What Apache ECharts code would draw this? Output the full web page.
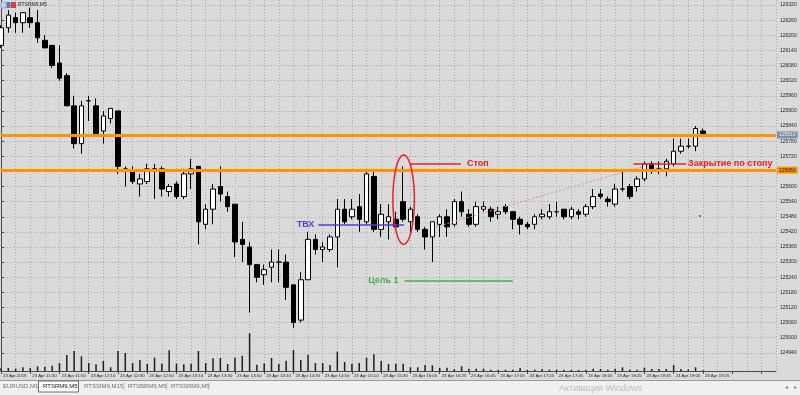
<!DOCTYPE html>
<html><head><meta charset="utf-8">
<script src="https://cdn.jsdelivr.net/npm/echarts@6/dist/echarts.min.js"></script>
<style>html,body{margin:0;padding:0;background:#dadada}#c{width:800px;height:395px}</style>
</head><body><div id="c"></div><script>
// ---- data ----
const timeLabels = ['23 Apr 2019','23 Apr 11:30','23 Apr 11:50','23 Apr 12:10','23 Apr 12:30','23 Apr 12:50','23 Apr 13:10','23 Apr 13:30','23 Apr 13:50','23 Apr 14:10','23 Apr 14:30','23 Apr 14:50','23 Apr 15:10','23 Apr 15:30','23 Apr 16:05','23 Apr 16:25','23 Apr 16:45','23 Apr 17:05','23 Apr 17:25','23 Apr 17:45','23 Apr 18:05','23 Apr 18:25','23 Apr 18:45','23 Apr 19:05','23 Apr 19:25'];
const opens = [126160,126230,126270,126250,126270,126250,126180,126160,126090,126040,
125920,125770,125940,125920,125820,125870,125900,125670,125660,125610,
125620,125670,125670,125580,125610,125560,125650,125680,125450,125510,
125600,125560,125530,125390,125360,125290,125250,125280,125300,125300,
125210,125070,125230,125390,125350,125350,125400,125510,125480,125520,
125460,125640,125430,125460,125470,125540,125460,125480,125430,125400,
125450,125480,125450,125540,125490,125450,125510,125510,125490,125520,
125500,125470,125450,125450,125480,125480,125500,125510,125480,125500,
125490,125520,125570,125550,125530,125590,125600,125600,125630,125690,
125660,125670,125690,125740,125760,125760,125820];
const closes = [126230,126280,126250,126290,126250,126190,126150,126080,126030,125920,
125770,125920,125940,125810,125880,125910,125680,125660,125620,125630,
125670,125670,125590,125600,125560,125650,125670,125460,125510,125590,
125570,125520,125380,125370,125290,125240,125270,125300,125300,125200,
125060,125230,125390,125350,125360,125400,125510,125460,125510,125470,
125650,125430,125490,125480,125440,125470,125510,125430,125400,125460,
125480,125440,125540,125500,125450,125520,125520,125480,125500,125500,
125470,125450,125440,125480,125490,125500,125500,125480,125510,125490,
125520,125560,125560,125540,125590,125590,125560,125630,125690,125660,
125670,125700,125740,125760,125760,125830,125810];
const lows = [126150,126210,126210,126210,126230,126170,126150,126070,126020,125920,
125750,125730,125860,125810,125770,125850,125650,125600,125610,125560,
125610,125550,125560,125560,125550,125550,125590,125370,125430,125450,
125540,125500,125320,125300,125100,125220,125210,125220,125220,125150,
125040,125060,125230,125330,125300,125340,125280,125450,125470,125420,
125450,125420,125400,125390,125430,125460,125420,125420,125350,125300,
125400,125400,125440,125480,125440,125440,125500,125460,125470,125490,
125430,125410,125430,125430,125470,125470,125480,125470,125470,125470,
125480,125510,125550,125520,125520,125580,125550,125580,125620,125650,
125650,125640,125680,125730,125750,125740,125810];
const highs = [126240,126300,126290,126290,126310,126300,126200,126160,126160,126050,
125960,125940,125960,125950,125900,125910,125900,125680,125680,125650,
125690,125690,125680,125610,125620,125670,125710,125680,125530,125610,
125680,125580,125530,125460,125380,125290,125290,125350,125350,125330,
125210,125260,125420,125410,125380,125410,125550,125550,125550,125570,
125660,125670,125530,125530,125500,125680,125520,125490,125440,125460,
125490,125510,125550,125580,125510,125540,125540,125520,125520,125530,
125500,125480,125460,125490,125510,125530,125540,125510,125520,125510,
125530,125590,125590,125560,125610,125670,125610,125640,125700,125700,
125700,125710,125790,125790,125790,125840,125830];
const volumes = [8,9,7,11,9,14,13,16,24,48,
60,44,24,20,30,11,60,54,24,33,
21,40,22,62,22,20,22,60,24,38,
39,21,40,46,113,19,23,39,21,31,
63,33,49,24,24,18,58,27,22,24,
40,50,30,21,22,22,11,11,18,17,
9,10,6,14,7,7,7,4,3,4,
4,9,3,4,6,4,4,4,3,3,
3,7,6,4,7,11,4,4,10,6,
6,6,18,6,5,11,2];
const priceTicks = [124940,125000,125060,125120,125180,125240,125300,125360,125420,125480,125540,125600,125660,125720,125780,125840,125900,125960,126020,126080,126140,126200,126260,126320];
const levelPrices = [125805, 125665];
const levelTags = ['125810', '125660'];
const stopPrice = 125690, entryPrice = 125450, targetPrice = 125228;
const tabs = ['EURUSD,M1','RTSRM9,M5','RTSSIM9,M15','RTSBRM9,M5','RTSSRM9,M5'];

// ---- build ----
const nSlots = 107;
const cats = Array.from({length:nSlots}, (_, i) => String(i));
const ohlc = opens.map((o, i) => [o, closes[i], lows[i], highs[i]]);
const FONT = 'Liberation Sans';
const RED = '#e8202a';

const chart = echarts.init(document.getElementById('c'), null, {renderer:'canvas'});
const option = {
  animation:false,
  backgroundColor:'#dadada',
  grid:{left:-1.34, top:0, width:777.34, height:371, containLabel:false},
  xAxis:[
    {type:'category', data:cats, boundaryGap:false,
     axisLine:{show:true, lineStyle:{color:'#4a4a4a', width:1}},
     axisTick:{show:true, interval:3, length:3, lineStyle:{color:'#4a4a4a'}},
     axisLabel:{interval:3, formatter:(v, i) => timeLabels[i/4] || '', fontSize:4.3, color:'#222', align:'left', margin:3, fontFamily:FONT, padding:[0,0,0,2]},
     splitLine:{show:true, interval:1, lineStyle:{color:'#a4a9b4', type:[1,2], width:1}}},
    {type:'value', min:0, max:nSlots-1, show:false}
  ],
  yAxis:[
    {type:'value', position:'right', min:124868, max:126340, scale:true,
     axisLine:{show:true, lineStyle:{color:'#4a4a4a'}},
     axisTick:{show:true, length:3, customValues:priceTicks, lineStyle:{color:'#4a4a4a'}},
     axisLabel:{customValues:priceTicks, fontSize:5, color:'#222', margin:4, fontFamily:FONT, formatter:v => String(v)},
     splitLine:{show:true, lineStyle:{color:'#a4a9b4', type:[1,2], width:1}}},
    {type:'value', min:0, max:1113, show:false}
  ],
  series:[
    {type:'bar', name:'volume', xAxisIndex:0, yAxisIndex:1, data:volumes, barWidth:1.5, silent:true, z:1,
     itemStyle:{color:'#1e1e1e'}},
    {type:'line', name:'levels', xAxisIndex:1, yAxisIndex:0, data:[], z:2, silent:true,
     markLine:{symbol:['none','none'], silent:true, animation:false,
       data:levelPrices.map((p, i) => ({yAxis:p,
         lineStyle:{color:'#ff9400', width:3, type:'solid'},
         label:{show:true, position:'end', distance:1, formatter:levelTags[i], fontSize:5, fontFamily:FONT,
           color: i === 0 ? '#e8ecf2' : '#222', backgroundColor: i === 0 ? '#7f8ea6' : '#ff9400', padding:[1,2,1,2]}}))}},
    {type:'candlestick', name:'RTSRM9', xAxisIndex:0, yAxisIndex:0, data:ohlc, barWidth:5, z:3,
     itemStyle:{color:'#ffffff', color0:'#000000', borderColor:'#000000', borderColor0:'#000000', borderWidth:1}},
    {type:'line', name:'annot', xAxisIndex:1, yAxisIndex:0, data:[], z:5, silent:true,
     markLine:{symbol:['none','none'], silent:true, animation:false,
       data:[
         [{coord:[56.0, stopPrice], lineStyle:{color:RED, width:1.5, type:'solid'},
           label:{show:true, position:'end', distance:6, formatter:'Стоп', color:RED, fontWeight:'bold', fontSize:9, fontFamily:FONT}},
          {coord:[62.9, stopPrice]}],
         [{coord:[86.5, stopPrice], lineStyle:{color:RED, width:1.5, type:'solid'},
           label:{show:true, position:'end', distance:2, formatter:'Закрытие по стопу', color:RED, fontWeight:'bold', fontSize:9, fontFamily:FONT}},
          {coord:[93.7, stopPrice]}],
         [{coord:[43.4, entryPrice], lineStyle:{color:'#4646cc', width:1.5, type:'solid'},
           label:{show:true, position:'start', distance:4, formatter:'ТВХ', color:'#4646cc', fontWeight:'bold', fontSize:9, fontFamily:FONT}},
          {coord:[55.1, entryPrice]}],
         [{coord:[55.2, targetPrice], lineStyle:{color:'#3cb44b', width:1.5, type:'solid'},
           label:{show:true, position:'start', distance:6, formatter:'Цель 1', color:'#3cb44b', fontWeight:'bold', fontSize:9, fontFamily:FONT}},
          {coord:[70.0, targetPrice]}],
         [{coord:[59.5, 125440], lineStyle:{color:'#e8907e', width:1, type:[2,2]}, label:{show:false}},
          {coord:[88.8, 125688]}]
       ]}},
    {type:'scatter', name:'mark', xAxisIndex:1, yAxisIndex:0, data:[[95.6, 125483]], symbol:'rect', symbolSize:2,
     itemStyle:{color:'#e02020'}, silent:true, z:6},
    {type:'custom', name:'ellipse', xAxisIndex:1, yAxisIndex:0, silent:true, z:6,
     data:[[55.07, 125548, 1.47, 177]],
     renderItem:(params, api) => {
       const c = api.coord([api.value(0), api.value(1)]);
       const s = api.size([api.value(2), api.value(3)]);
       const pts = [];
       for (let a = 0; a < 72; a++) {
         const t = a / 72 * Math.PI * 2;
         pts.push([c[0] + s[0] * Math.cos(t), c[1] + s[1] * Math.sin(t)]);
       }
       return {type:'polygon', shape:{points:pts}, style:{fill:'none', stroke:RED, lineWidth:1.5}};
     }}
  ],
  graphic:[
    {type:'rect', left:0, top:381, shape:{width:800, height:14}, style:{fill:'#f0f0f0'}, z:10},
    {type:'line', shape:{x1:0, y1:380.5, x2:800, y2:380.5}, style:{stroke:'#9a9a9a', lineWidth:1}, z:11},
    {type:'rect', shape:{x:38.5, y:381, width:40, height:11}, style:{fill:'#ffffff', stroke:'#6a6a6a', lineWidth:1}, z:11},
    {type:'text', x:3, y:383.5, style:{text:tabs[0], fontSize:6, fill:'#707070', fontFamily:FONT}, z:12},
    {type:'text', x:43, y:383.5, style:{text:tabs[1], fontSize:6, fill:'#111', fontFamily:FONT}, z:12},
    {type:'text', x:84, y:383.5, style:{text:tabs[2], fontSize:6, fill:'#707070', fontFamily:FONT}, z:12},
    {type:'text', x:123, y:383, style:{text:'|', fontSize:7, fill:'#a0a0a0', fontFamily:FONT}, z:12},
    {type:'text', x:128, y:383.5, style:{text:tabs[3], fontSize:6, fill:'#707070', fontFamily:FONT}, z:12},
    {type:'text', x:166, y:383, style:{text:'|', fontSize:7, fill:'#a0a0a0', fontFamily:FONT}, z:12},
    {type:'text', x:171, y:383.5, style:{text:tabs[4], fontSize:6, fill:'#707070', fontFamily:FONT}, z:12},
    {type:'text', x:208, y:383, style:{text:'|', fontSize:7, fill:'#a0a0a0', fontFamily:FONT}, z:12},
    {type:'text', x:559, y:384.5, style:{text:'Активация Windows', fontSize:9, fill:'#bcbcbc', fontFamily:FONT}, z:12},
    {type:'text', x:785, y:384, style:{text:'◂', fontSize:6, fill:'#808080', fontFamily:'DejaVu Sans'}, z:12},
    {type:'text', x:794, y:384, style:{text:'▸', fontSize:6, fill:'#808080', fontFamily:'DejaVu Sans'}, z:12},
    {type:'rect', shape:{x:1, y:2, width:5, height:6}, style:{fill:'#c8d4ec', stroke:'#6078b8', lineWidth:0.5}, z:12},
    {type:'rect', shape:{x:6.5, y:2, width:4, height:6}, style:{fill:'#5a78c8'}, z:12},
    {type:'rect', shape:{x:11, y:2, width:5, height:6}, style:{fill:'#d84040'}, z:12},
    {type:'text', x:18, y:2.5, style:{text:'RTSRM9,M5', fontSize:5, fill:'#222', fontFamily:FONT}, z:12}
  ]
};
chart.setOption(option);
</script></body></html>
